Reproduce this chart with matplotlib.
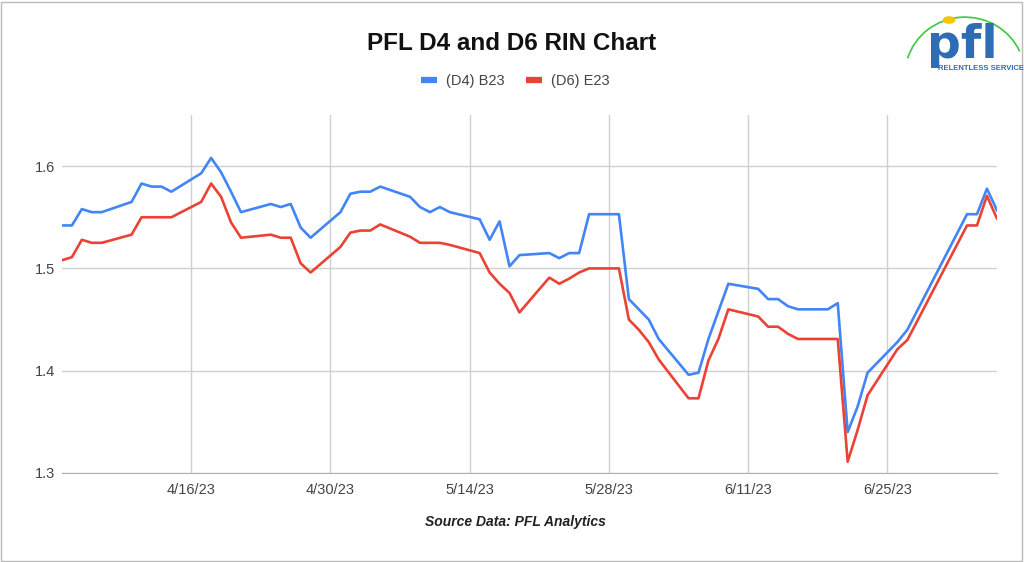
import matplotlib
matplotlib.use("Agg")
import matplotlib.pyplot as plt
from matplotlib.lines import Line2D
from matplotlib.patches import Rectangle, Circle, Arc
import pandas as pd

plt.rcParams['font.family'] = ['Liberation Sans', 'DejaVu Sans']

# data (2023)
dates = ["4/3", "4/4", "4/5", "4/6", "4/7", "4/10", "4/11", "4/12", "4/13", "4/14",
         "4/17", "4/18", "4/19", "4/20", "4/21", "4/24", "4/25", "4/26", "4/27", "4/28",
         "5/1", "5/2", "5/3", "5/4", "5/5", "5/8", "5/9", "5/10", "5/11", "5/12",
         "5/15", "5/16", "5/17", "5/18", "5/19", "5/22", "5/23", "5/24", "5/25", "5/26",
         "5/29", "5/30", "5/31", "6/1", "6/2", "6/5", "6/6", "6/7", "6/8", "6/9",
         "6/12", "6/13", "6/14", "6/15", "6/16", "6/19", "6/20", "6/21", "6/22", "6/23",
         "6/26", "6/27", "7/3", "7/4", "7/5", "7/6"]

d4_b23 = [1.542, 1.542, 1.558, 1.555, 1.555, 1.565, 1.583, 1.580, 1.580, 1.575,
          1.593, 1.608, 1.594, 1.575, 1.555, 1.563, 1.560, 1.563, 1.540, 1.530,
          1.555, 1.573, 1.575, 1.575, 1.580, 1.570, 1.560, 1.555, 1.560, 1.555,
          1.548, 1.528, 1.546, 1.502, 1.513, 1.515, 1.510, 1.515, 1.515, 1.553,
          1.553, 1.470, 1.460, 1.450, 1.431, 1.396, 1.398, 1.431, 1.458, 1.485,
          1.480, 1.470, 1.470, 1.463, 1.460, 1.460, 1.466, 1.340, 1.365, 1.398,
          1.428, 1.440, 1.553, 1.553, 1.578, 1.557]

d6_e23 = [1.508, 1.511, 1.528, 1.525, 1.525, 1.533, 1.550, 1.550, 1.550, 1.550,
          1.565, 1.583, 1.570, 1.545, 1.530, 1.533, 1.530, 1.530, 1.505, 1.496,
          1.521, 1.535, 1.537, 1.537, 1.543, 1.531, 1.525, 1.525, 1.525, 1.523,
          1.515, 1.496, 1.485, 1.476, 1.457, 1.491, 1.485, 1.490, 1.496, 1.500,
          1.500, 1.450, 1.440, 1.428, 1.411, 1.373, 1.373, 1.410, 1.431, 1.460,
          1.453, 1.443, 1.443, 1.436, 1.431, 1.431, 1.431, 1.311, 1.342, 1.376,
          1.421, 1.430, 1.542, 1.542, 1.571, 1.549]

tick_dates = ["4/16", "4/30", "5/14", "5/28", "6/11", "6/25"]
y_ticks = [1.3, 1.4, 1.5, 1.6]

BLUE = "#4285F4"
RED = "#EA4335"
LOGO_BLUE = "#2E6DB4"

x = pd.to_datetime([d + "/2023" for d in dates], format="%m/%d/%Y")
xt = pd.to_datetime([d + "/2023" for d in tick_dates], format="%m/%d/%Y")

fig = plt.figure(figsize=(10.24, 5.62), dpi=100)
ax = fig.add_axes([0.0605, 0.1584, 0.9130, 0.637])

ax.plot(x, d4_b23, color=BLUE, lw=1.9, solid_joinstyle="round")
ax.plot(x, d6_e23, color=RED, lw=1.9, solid_joinstyle="round")

ax.set_xlim(pd.Timestamp("2023-04-03"), pd.Timestamp("2023-07-06"))
ax.set_ylim(1.3, 1.65)
ax.set_yticks(y_ticks)
ax.set_yticklabels([f"{v:.1f}" for v in y_ticks])
ax.set_xticks(xt)
ax.set_xticklabels([f"{d}/23" for d in tick_dates])

ax.grid(True, color="#d0d0d0", lw=1)
ax.set_axisbelow(True)
for s in ["top", "right", "left"]:
    ax.spines[s].set_visible(False)
ax.spines["bottom"].set_color("#b0b0b0")
ax.tick_params(length=0, colors="#444444", labelsize=10.5, pad=7)
ax.tick_params(axis="y", pad=5)

fig.text(0.5, 0.922, "PFL D4 and D6 RIN Chart", ha="center", va="center",
         fontsize=17.5, fontweight="bold", color="#111111")
fig.text(0.503, 0.071, "Source Data: PFL Analytics", ha="center", va="center",
         fontsize=10, fontweight="bold", style="italic", color="#222222")

handles = [Line2D([], [], color=BLUE, lw=4.5, solid_capstyle="butt"),
           Line2D([], [], color=RED, lw=4.5, solid_capstyle="butt")]
fig.legend(handles, ["(D4) B23", "(D6) E23"], loc="center", ncol=2,
           bbox_to_anchor=(0.503, 0.855), frameon=False, fontsize=10.5,
           handlelength=1.1, handletextpad=0.6, columnspacing=1.5,
           labelcolor="#444444")

# logo
fig.patches.append(Arc((0.9424, 0.8665), 0.117, 0.206, theta1=38, theta2=152,
                       transform=fig.transFigure, color="#4CC94C", lw=1.3))
fig.patches.append(Circle((0.9268, 0.9644), 0.0055, transform=fig.transFigure,
                          color="#F7C600"))
fig.text(0.905, 0.8968, "pfl", ha="left", va="baseline", fontsize=34,
         fontweight="bold", color=LOGO_BLUE, family="DejaVu Sans")
fig.text(0.916, 0.879, "RELENTLESS SERVICE", ha="left", va="center",
         fontsize=5.5, fontweight="bold", color=LOGO_BLUE)

# outer border
fig.patches.append(Rectangle((0.001, 0.002), 0.997, 0.995, transform=fig.transFigure,
                             fill=False, edgecolor="#bbbbbb", lw=1))

fig.savefig("out.png", dpi=100)
